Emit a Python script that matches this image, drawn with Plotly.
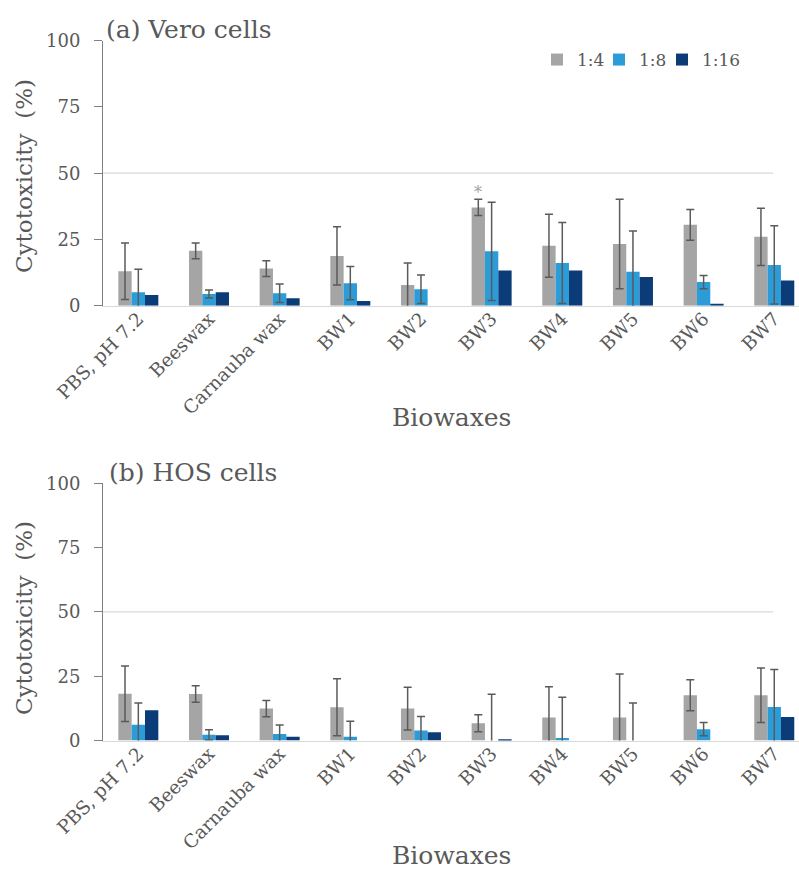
import plotly.graph_objects as go

categories = ["PBS, pH 7.2", "Beeswax", "Carnauba wax", "BW1", "BW2", "BW3", "BW4", "BW5", "BW6", "BW7"]
series_names = ["1:4", "1:8", "1:16"]

# (a) Vero cells
vero_14 = [13.0, 20.7, 14.0, 18.8, 7.8, 37.1, 22.6, 23.3, 30.5, 26.0]
vero_14_sd = [10.7, 3.0, 3.0, 11.0, 8.3, 3.1, 11.9, 16.9, 5.8, 10.8]
vero_18 = [5.1, 4.4, 4.7, 8.5, 6.2, 20.5, 16.1, 12.8, 8.9, 15.4]
vero_18_sd = [8.7, 1.5, 3.5, 6.3, 5.4, 18.5, 15.3, 15.4, 2.5, 14.8]
vero_116 = [4.0, 5.1, 2.8, 1.8, 0.0, 13.3, 13.3, 10.8, 0.6, 9.5]

# (b) HOS cells
hos_14 = [18.2, 18.1, 12.4, 12.9, 12.4, 6.7, 8.9, 8.9, 17.6, 17.6]
hos_14_sd = [10.8, 3.2, 3.2, 11.1, 8.3, 3.3, 12.0, 17.0, 6.0, 10.6]
hos_18 = [6.1, 2.2, 2.5, 1.5, 3.9, 0.0, 1.0, 0.0, 4.4, 13.0]
hos_18_sd = [8.5, 2.0, 3.5, 6.0, 5.4, 18.0, 15.8, 14.6, 2.6, 14.6]
hos_116 = [11.8, 2.0, 1.5, 0.0, 3.2, 0.5, 0.0, 0.0, 0.0, 9.1]

y_ticks = [0, 25, 50, 75, 100]

colors = ["#A5A5A5", "#2B9CD8", "#0C3C78"]
err_color = "#5a5a5a"
txt_color = "#595959"
FONT = "DejaVu Serif"

W, H = 799, 870
ML = 103
plot_w = W - ML
x_range = [-0.5, 9.35]
bargap = 0.434
px_per_cat = plot_w / (x_range[1] - x_range[0])
bar_px = px_per_cat * (1 - bargap) / 3

def px_x(px):
    return (px - ML) / plot_w

def px_y(px):
    return 1 - px / H

fig = go.Figure()

legend_ids = ["legend", "legend2", "legend3"]
panels = [
    ("x", "y", [vero_14, vero_18, vero_116], [vero_14_sd, vero_18_sd, None], True),
    ("x2", "y2", [hos_14, hos_18, hos_116], [hos_14_sd, hos_18_sd, None], False),
]
for xa, ya, vals, sds, show in panels:
    for i in range(3):
        ey = dict(visible=False)
        if sds[i] is not None:
            ey = dict(type="data", array=sds[i], visible=True, color=err_color,
                      thickness=1.5, width=4)
        fig.add_trace(go.Bar(
            x=categories, y=vals[i], name=series_names[i],
            marker=dict(color=colors[i], line=dict(width=0)),
            error_y=ey, xaxis=xa, yaxis=ya, showlegend=show,
            legend=legend_ids[i],
        ))

top_dom = [px_y(305.7), px_y(40.7)]
bot_dom = [px_y(740.5), px_y(483.3)]

xcommon = dict(type="category", range=x_range, showline=True, linecolor="#d9d9d9",
               linewidth=1.2, ticks="", showgrid=False, zeroline=False,
               tickangle=-45, ticklabelstandoff=-6,
               tickfont=dict(family=FONT, size=18.5, color=txt_color))
ycommon = dict(range=[0, 100], tickvals=y_ticks, showline=True, linecolor="#808080",
               linewidth=1, ticks="outside", ticklen=8, tickcolor="#808080",
               showgrid=False, zeroline=False, ticklabelstandoff=10,
               tickfont=dict(family=FONT, size=18, color=txt_color))

leg_common = dict(orientation="h", xanchor="left", yanchor="middle", y=px_y(60),
                  font=dict(family=FONT, size=17, color=txt_color),
                  bgcolor="rgba(0,0,0,0)")

fig.update_layout(
    width=W, height=H,
    margin=dict(l=ML, r=0, t=0, b=0, autoexpand=False),
    paper_bgcolor="white", plot_bgcolor="white",
    barmode="group", bargap=bargap, bargroupgap=0,
    xaxis=dict(domain=[0, 1], anchor="y", **xcommon),
    yaxis=dict(domain=top_dom, anchor="x", **ycommon),
    xaxis2=dict(domain=[0, 1], anchor="y2", **xcommon),
    yaxis2=dict(domain=bot_dom, anchor="x2", **ycommon),
    legend=dict(x=px_x(537), **leg_common),
    legend2=dict(x=px_x(599), **leg_common),
    legend3=dict(x=px_x(662), **leg_common),
    showlegend=True,
)

# 50% gridlines
for ya in ["y", "y2"]:
    fig.add_shape(type="line", xref="paper", yref=ya, x0=0, x1=px_x(773),
                  y0=50, y1=50, line=dict(color="#d9d9d9", width=1.2), layer="below")

title_font = dict(family=FONT, size=25, color=txt_color)
ytitle_font = dict(family=FONT, size=23, color=txt_color)
ann = [
    dict(text="(a) Vero cells", x=px_x(104), y=px_y(30), xanchor="left", yanchor="middle", font=title_font),
    dict(text="(b) HOS cells", x=px_x(107), y=px_y(472), xanchor="left", yanchor="middle", font=title_font),
    dict(text="Cytotoxicity  (%)", x=px_x(24), y=px_y(176),
         xanchor="center", yanchor="middle", textangle=-90, font=ytitle_font),
    dict(text="Cytotoxicity  (%)", x=px_x(24), y=px_y(618),
         xanchor="center", yanchor="middle", textangle=-90, font=ytitle_font),
    dict(text="Biowaxes", x=px_x(451), y=px_y(418), xanchor="center", yanchor="middle", font=title_font),
    dict(text="Biowaxes", x=px_x(451), y=px_y(855), xanchor="center", yanchor="middle", font=title_font),
]
for a in ann:
    fig.add_annotation(xref="paper", yref="paper", showarrow=False, **a)

# significance marker above BW3 1:4 (Vero)
fig.add_annotation(xref="x", yref="y", x="BW3", y=vero_14[5] + vero_14_sd[5] + 2.5,
                   text="*", showarrow=False, xshift=-bar_px,
                   font=dict(family=FONT, size=16, color="#a0a0a0"))

fig.write_html("out.html", config={"displayModeBar": False},
               post_script="document.body.style.margin='0';")
